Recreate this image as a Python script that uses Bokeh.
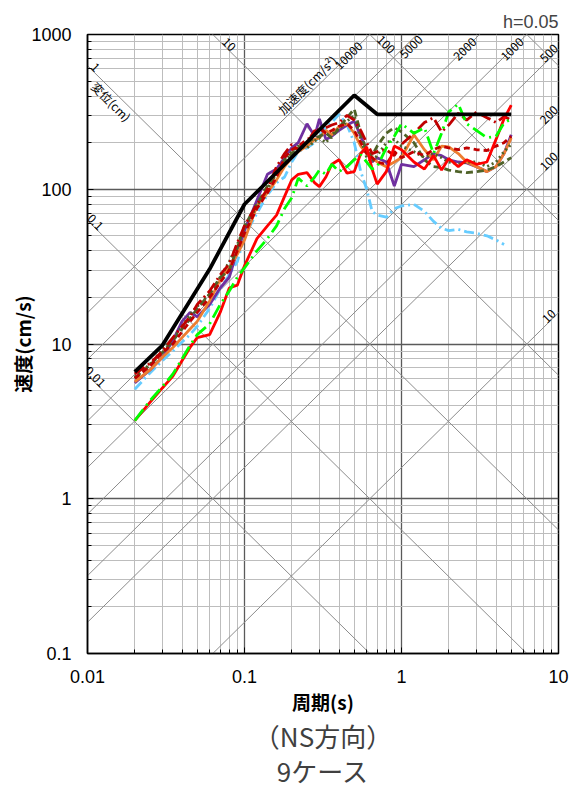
import math
from bokeh.plotting import figure
from bokeh.models import FixedTicker, CustomJSTickFormatter, Title, Range1d
from bokeh.core.properties import value
from bokeh.embed import file_html
from bokeh.resources import INLINE

# ---------------- data ----------------
periods = [0.02, 0.025, 0.03, 0.035, 0.04, 0.045, 0.05, 0.06, 0.07, 0.08, 0.09, 0.1,
           0.12, 0.14, 0.16, 0.18, 0.2, 0.22, 0.25, 0.28, 0.3, 0.33, 0.36, 0.4, 0.45, 0.5,
           0.55, 0.6, 0.65, 0.7, 0.8, 0.9, 1.0, 1.2, 1.4, 1.6, 1.8, 2.0,
           2.3, 2.6, 3.0, 3.5, 4.0, 4.5, 5.0]

design_T = [0.02, 0.03, 0.06, 0.1, 0.5, 0.7, 5.0]
design_SV = [6.6, 9.8, 30.5, 80, 405, 305, 305]

sv_purple = [5.6, 6.8, 8.2, 10.5, 14, 16, 15, 18, 23, 27, 40, 54,
             85, 125, 135, 160, 185, 200, 265, 220, 285, 210, 220, 240, 260, 275,
             220, 180, 150, 160, 150, 105, 145, 140, 155, 170, 165, 155,
             150, 148, 140, 130, 140, 170, 225]
sv_lightblue = [5.1, 6.5, 7.8, 9, 10.3, 11.5, 13, 17, 22.6, 28, 34, 50,
                70, 92, 110, 120, 150, 175, 185, 200, 220, 250, 270, 305, 260, 200,
                130, 100, 72, 68, 66, 75, 78, 80, 72, 62, 56, 54,
                55, 53, 52, 50, 47, 44, float("nan")]
sv_orange = [5.7, 6.8, 8.2, 9.5, 11, 12.5, 14, 19, 26, 31, 38, 47,
             78, 95, 115, 140, 160, 175, 190, 210, 215, 240, 225, 255, 265, 230,
             190, 170, 160, 150, 140, 150, 160, 225, 180, 155, 190, 188,
             170, 150, 140, 130, 140, 170, 215]
sv_dkgreen_dot = [6.1, 7.4, 9.2, 10.8, 13, 15.5, 17.5, 21, 27, 34, 44, 56,
                  78, 100, 130, 150, 175, 190, 185, 205, 215, 200, 225, 245, 275, 300,
                  210, 160, 150, 165, 200, 210, 190, 175, 160, 170, 160, 150,
                  145, 150, 150, 140, 150, 175, 195]
sv_dkgreen = [6.0, 7.3, 8.8, 10.5, 12.5, 14.5, 17, 21, 27, 30, 42, 58,
              80, 105, 125, 155, 170, 185, 200, 215, 220, 230, 215, 250, 290, 330,
              230, 175, 165, 190, 230, 250, 235, 200, 155, 140, 138, 133,
              130, 128, 130, 133, 140, 150, 160]
sv_dkred_dash = [6.0, 7.2, 8.8, 10, 12, 14, 16, 20, 25, 30, 40, 52,
                 75, 95, 120, 160, 180, 190, 210, 220, 250, 230, 240, 255, 265, 240,
                 200, 170, 160, 150, 145, 175, 160, 175, 165, 180, 190, 185,
                 180, 185, 180, 178, 190, 200, 220]
sv_dkred = [6.4, 7.5, 9, 11, 13, 15, 18, 22, 28, 33, 45, 58,
            80, 100, 140, 170, 195, 180, 200, 240, 230, 250, 260, 270, 300, 280,
            240, 200, 170, 175, 180, 165, 195, 230, 270, 290, 235, 260,
            310, 280, 315, 290, 270, 295, 280]
sv_red = [3.2, 4.2, 5.2, 6.2, 7.8, 9.5, 11, 11.5, 16, 23, 24, 32,
          48, 58, 68, 90, 115, 125, 128, 110, 104, 120, 145, 155, 127, 130,
          170, 188, 135, 108, 130, 190, 180, 150, 135, 165, 133, 158,
          140, 155, 145, 150, 210, 285, 350]
sv_green = [3.2, 4.3, 5.3, 6.4, 8.0, 9.8, 11.5, 13.5, 18, 22, 27, 31,
            40, 48, 58, 75, 88, 118, 105, 120, 133, 125, 145, 130, 140, 155,
            167, 150, 135, 140, 185, 220, 265, 230, 250, 170, 230, 316,
            355, 265, 240, 215, 220, 268, 285]

disp_lines = [0.01, 0.1, 1, 10, 100, 1000]            # cm
acc_lines = [10, 100, 200, 500, 1000, 2000, 5000, 10000]  # cm/s2

disp_left_labels = [0.01, 0.1, 1]
disp_top_labels = [10, 100]
acc_top_labels = [2000, 1000]
acc_right_labels = [500, 200, 100, 10]

x_ticks = [0.01, 0.1, 1, 10]
y_ticks = [0.1, 1, 10, 100, 1000]

# ---------------- figure ----------------
JP = "Noto Sans CJK JP"
NUM = "Liberation Sans"
FW, FH = 471, 619
XD, YD = FW / 3.0, FH / 4.0

p = figure(x_axis_type="log", y_axis_type="log",
           x_range=Range1d(0.01, 10), y_range=Range1d(0.1, 1000),
           frame_width=FW, frame_height=FH,
           output_backend="svg", toolbar_location=None,
           min_border_left=87, min_border_right=11, min_border_top=34, min_border_bottom=0,
           background_fill_color="white", border_fill_color="white")

p.title.text = "h=0.05"
p.title.align = "right"
p.title.text_font = NUM
p.title.text_font_size = "18px"
p.title.text_font_style = "normal"
p.title.standoff = 5

minor_x = [m * 10.0 ** e for e in range(-2, 1) for m in range(2, 10)]
minor_y = [m * 10.0 ** e for e in range(-1, 3) for m in range(2, 10)]
p.xaxis.ticker = FixedTicker(ticks=x_ticks, minor_ticks=minor_x)
p.yaxis.ticker = FixedTicker(ticks=y_ticks, minor_ticks=minor_y)
p.xaxis.formatter = CustomJSTickFormatter(code="return String(tick)")
p.yaxis.formatter = CustomJSTickFormatter(code="return String(tick)")

for ax in (p.xaxis[0], p.yaxis[0]):
    ax.major_tick_in = 6
    ax.major_tick_out = 0
    ax.minor_tick_in = 4
    ax.minor_tick_out = 0
    ax.axis_line_color = "black"
    ax.axis_line_width = 1.5
    ax.major_tick_line_color = "black"
    ax.minor_tick_line_color = "black"
    ax.major_label_text_font = NUM
    ax.major_label_text_font_size = "18px"
    ax.major_label_text_color = "black"
    ax.axis_label_text_font = JP
    ax.axis_label_text_font_size = "19px"
    ax.axis_label_text_font_style = "bold"
    ax.axis_label_text_color = "black"

p.xaxis.axis_label = "周期(s)"
p.yaxis.axis_label = "速度(cm/s)"
p.xaxis.major_label_standoff = 16
p.xaxis.axis_label_standoff = 2
p.yaxis.major_label_standoff = 16
p.yaxis.axis_label_standoff = -8

p.outline_line_color = "black"
p.outline_line_width = 1.5

for g in (p.xgrid[0], p.ygrid[0]):
    g.grid_line_color = "#5a5a5a"
    g.grid_line_width = 1.3
    g.minor_grid_line_color = "#bdbdbd"
    g.minor_grid_line_width = 1

# diagonal tripartite lines
span_T = [0.001, 1000]
for d in disp_lines:
    p.line(span_T, [2 * math.pi * d / t for t in span_T], line_color="#8c8c8c", line_width=1)
for a in acc_lines:
    p.line(span_T, [a * t / (2 * math.pi) for t in span_T], line_color="#8c8c8c", line_width=1)

def T_px(px):
    return 10 ** (-2 + px / XD)

def SV_px(py):
    return 10 ** (3 - py / YD)

lab = dict(text_font=value(JP), text_font_size="12px", text_color="black")

# displacement labels on left edge
tl = T_px(4.8)
p.text([tl] * len(disp_left_labels), [2 * math.pi * d / tl for d in disp_left_labels],
       text=[str(d) for d in disp_left_labels], angle=-math.pi / 4,
       text_align="center", text_baseline="bottom", **lab)
# displacement labels at top
sv_t = SV_px(13)
p.text([2 * math.pi * d / sv_t for d in disp_top_labels], [sv_t] * len(disp_top_labels),
       text=[str(d) for d in disp_top_labels], angle=-math.pi / 4,
       text_align="center", text_baseline="bottom", **lab)
# 変位(cm)
t_v = T_px(30)
p.text([t_v], [2 * math.pi * 1 / t_v], text=["変位(cm)"], angle=-math.pi / 4,
       text_align="center", text_baseline="top", **lab)
# acceleration labels at top
sv_a = SV_px(14.5)
p.text([2 * math.pi * sv_a / a for a in acc_top_labels], [sv_a] * len(acc_top_labels),
       text=[str(a) for a in acc_top_labels], angle=math.pi / 4,
       text_align="center", text_baseline="middle", **lab)
sv_5k = SV_px(9)
p.text([2 * math.pi * sv_5k / 5000], [sv_5k], text=["5000"], angle=math.pi / 4,
       text_align="center", text_baseline="top", **lab)
sv_10k = SV_px(21)
p.text([2 * math.pi * sv_10k / 10000], [sv_10k], text=["10000"], angle=math.pi / 4,
       text_align="center", text_baseline="middle", **lab)
sv_acc = SV_px(56)
p.text([2 * math.pi * sv_acc / 10000], [sv_acc], text=["加速度(cm/s²)"], angle=math.pi / 4,
       text_align="center", text_baseline="bottom", **lab)
# acceleration labels at right edge
tr = T_px(FW - 6.5)
p.text([tr] * len(acc_right_labels), [a * tr / (2 * math.pi) for a in acc_right_labels],
       text=[str(a) for a in acc_right_labels], angle=math.pi / 4,
       text_align="center", text_baseline="bottom", **lab)

# ---------------- spectra ----------------
LW = 2.8
p.line(periods, sv_lightblue, line_color="#66CCFF", line_width=LW, line_dash="10 4 2 4")
p.line(periods, sv_purple, line_color="#7030A0", line_width=LW)
p.line(periods, sv_orange, line_color="#ED7D31", line_width=LW)
p.line(periods, sv_dkgreen_dot, line_color="#4F6228", line_width=LW, line_dash="2 3")
p.line(periods, sv_dkgreen, line_color="#4F6228", line_width=LW, line_dash="7 4")
p.line(periods, sv_dkred_dash, line_color="#C00000", line_width=LW, line_dash="6 4")
p.line(periods, sv_dkred, line_color="#C00000", line_width=LW, line_dash="12 4 2 4")
p.line(periods, sv_red, line_color="#FF0000", line_width=LW)
p.line(periods, sv_green, line_color="#00FF00", line_width=LW, line_dash="14 5 2 5")
p.line(design_T, design_SV, line_color="black", line_width=3.8)

# ---------------- captions below ----------------
p.add_layout(Title(text="（NS方向）", align="center", text_font=JP, text_font_size="26px",
                   text_font_style="normal", text_color="#404040", standoff=-6), "below")
p.add_layout(Title(text="9ケース", align="center", text_font=JP, text_font_size="26px",
                   text_font_style="normal", text_color="#404040", standoff=-2), "below")

open("out.html", "w").write(file_html(p, INLINE))
